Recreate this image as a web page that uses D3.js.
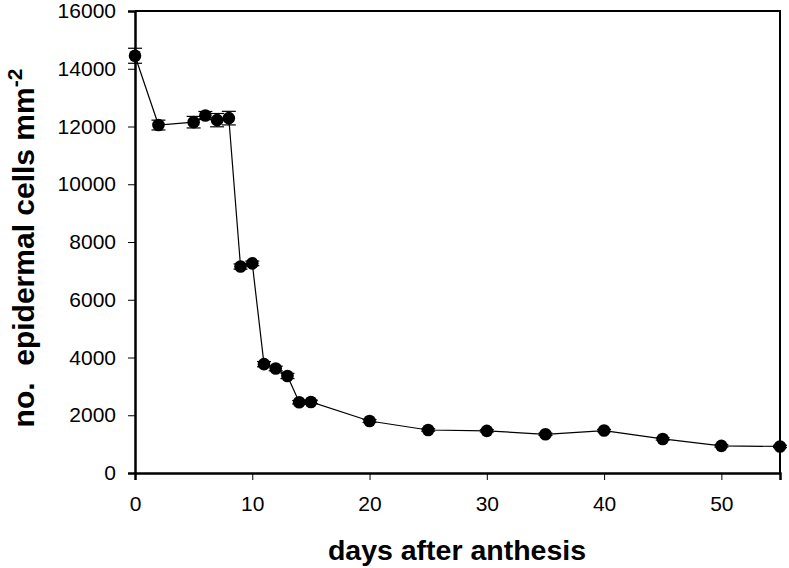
<!DOCTYPE html>
<html><head><meta charset="utf-8">
<script src="https://cdn.jsdelivr.net/npm/d3@7"></script>
<style>body{margin:0;background:#fff}svg{display:block}</style>
</head><body>
<svg id="c" width="789" height="568"></svg>
<script>
const days   = [0, 2, 5, 6, 7, 8, 9, 10, 11, 12, 13, 14, 15, 20, 25, 30, 35, 40, 45, 50, 55];
const cells  = [14450, 12050, 12150, 12380, 12220, 12290, 7150, 7260, 3770, 3620, 3360, 2450, 2460, 1800, 1490, 1460, 1340, 1470, 1180, 940, 920];
const errors = [260, 170, 200, 140, 230, 235, 90, 80, 90, 80, 90, 60, 60, 50, 40, 40, 40, 40, 40, 40, 40];
const xTicks = [0, 10, 20, 30, 40, 50];
const yTicks = [0, 2000, 4000, 6000, 8000, 10000, 12000, 14000, 16000];

const svg = d3.select("#c");
const L = 135, R = 780, T = 11, B = 473;
const x = d3.scaleLinear().domain([0, 55]).range([L, R]);
const y = d3.scaleLinear().domain([0, 16000]).range([B, T]);

const font = "'Liberation Sans', Arial, sans-serif";

// frame
svg.append("path").attr("d", `M${L},${T}H${R}V${B}`).attr("fill","none").attr("stroke","#000").attr("stroke-width",2);

const xa = svg.append("g").attr("transform", `translate(0,${B})`)
  .call(d3.axisBottom(x).tickValues(xTicks).tickSize(7).tickPadding(16).tickFormat(d3.format("d")));
const ya = svg.append("g").attr("transform", `translate(${L},0)`)
  .call(d3.axisLeft(y).tickValues(yTicks).tickSize(7).tickPadding(12).tickFormat(d3.format("d")));
[xa, ya].forEach(a => {
  a.select(".domain").attr("stroke-width", 2.5);
  a.selectAll(".tick line").attr("stroke-width", 1);
  a.selectAll("text").attr("font-family", font).attr("font-size", 21).attr("fill", "#000");
});

// line
svg.append("path").datum(days.map((d,i)=>[d,cells[i]]))
  .attr("fill","none").attr("stroke","#000").attr("stroke-width",1.2)
  .attr("d", d3.line().x(d=>x(d[0])).y(d=>y(d[1])));

// error bars
const eb = svg.append("g").attr("stroke","#000").attr("stroke-width",1.2);
days.forEach((d,i)=>{
  const cx = x(d), y1 = y(cells[i]+errors[i]), y2 = y(cells[i]-errors[i]);
  eb.append("line").attr("x1",cx).attr("x2",cx).attr("y1",y1).attr("y2",y2);
  eb.append("line").attr("x1",cx-7).attr("x2",cx+7).attr("y1",y1).attr("y2",y1);
  eb.append("line").attr("x1",cx-7).attr("x2",cx+7).attr("y1",y2).attr("y2",y2);
});

// markers
svg.append("g").selectAll("circle").data(days).join("circle")
  .attr("cx", d=>x(d)).attr("cy", (d,i)=>y(cells[i])).attr("r", 6.3).attr("fill","#000");

// titles
svg.append("text").attr("x", 457).attr("y", 560).attr("text-anchor","middle")
  .attr("font-family", font).attr("font-weight","bold").attr("font-size",28.5).text("days after anthesis");

const yt = svg.append("text").attr("transform", `translate(34,248) rotate(-90)`)
  .attr("text-anchor","middle").attr("font-family", font).attr("font-weight","bold").attr("font-size",30)
  .attr("xml:space","preserve");
yt.append("tspan").text("no.  epidermal cells mm");
yt.append("tspan").attr("dy",-12).attr("font-size",21).text("-2");
</script>
</body></html>
